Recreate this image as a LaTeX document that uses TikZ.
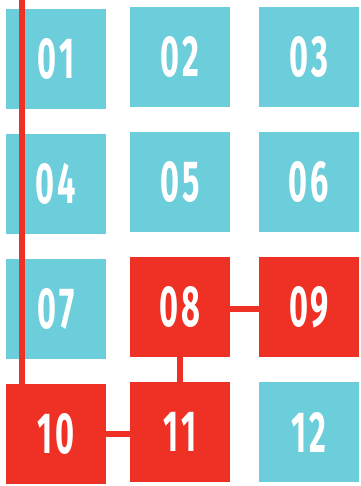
\documentclass[tikz,border=0pt]{standalone}
\usepackage{fontspec}
\newfontfamily\numfont{Fira Sans}[FakeStretch=0.56,LetterSpace=5]
\definecolor{tileblue}{RGB}{108,205,219}
\definecolor{tilered}{RGB}{238,49,36}
\begin{document}
\begin{tikzpicture}[x=1pt,y=-1pt,
  tile/.style={minimum size=100pt,inner sep=0pt,text=white,font=\numfont\bfseries\fontsize{58}{58}\selectfont},
  bluetile/.style={tile,fill=tileblue},
  redtile/.style={tile,fill=tilered},
  link/.style={draw=tilered,line width=6pt}]
\useasboundingbox (0,0) rectangle (360,486);
\node[bluetile] (n01) at (56,59) {01};
\node[bluetile] (n02) at (180,57) {02};
\node[bluetile] (n03) at (309,57) {03};
\node[bluetile] (n04) at (56,184) {04};
\node[bluetile] (n05) at (180,182) {05};
\node[bluetile] (n06) at (309,182) {06};
\node[bluetile] (n07) at (56,309) {07};
\node[redtile] (n08) at (180,307) {08};
\node[redtile] (n09) at (309,307) {09};
\node[redtile] (n10) at (56,434) {10};
\node[redtile] (n11) at (180,432) {11};
\node[bluetile] (n12) at (309,432) {12};
\coordinate (top) at (22,0);
\draw[link] (top) -- (top |- n10.north);
\draw[link] ([yshift=-2pt]n08.east) -- ([yshift=-2pt]n09.west);
\draw[link] (n08.south) -- (n11.north);
\draw[link] (n10.east) -- (n11.west |- n10.east);
\end{tikzpicture}
\end{document}
